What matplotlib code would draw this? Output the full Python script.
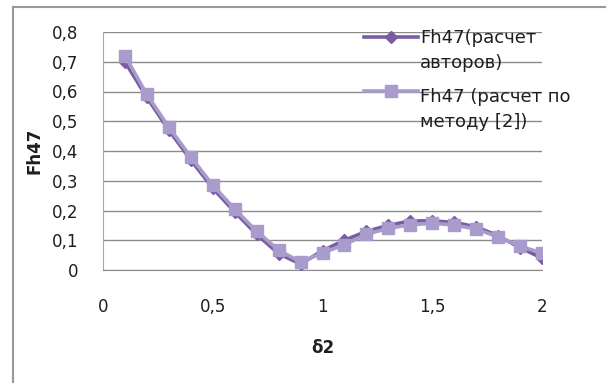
import matplotlib
matplotlib.use("Agg")
import matplotlib.pyplot as plt
from matplotlib.lines import Line2D
from matplotlib.ticker import FuncFormatter

plt.rcParams['font.family'] = ['DejaVu Sans']

# Data
delta2 = [0.1, 0.2, 0.3, 0.4, 0.5, 0.6, 0.7, 0.8, 0.9, 1.0,
          1.1, 1.2, 1.3, 1.4, 1.5, 1.6, 1.7, 1.8, 1.9, 2.0]
fh47_authors = [0.70, 0.58, 0.47, 0.37, 0.275, 0.195, 0.12, 0.055, 0.02, 0.065,
                0.10, 0.13, 0.15, 0.165, 0.165, 0.16, 0.145, 0.115, 0.075, 0.04]
fh47_method2 = [0.72, 0.59, 0.48, 0.38, 0.285, 0.205, 0.13, 0.067, 0.027, 0.057,
                0.085, 0.12, 0.14, 0.152, 0.157, 0.151, 0.138, 0.111, 0.08, 0.057]
label_authors = ["Fh47(расчет", "авторов)"]
label_method2 = ["Fh47 (расчет по", "методу [2])"]
x_ticks = [0, 0.5, 1, 1.5, 2]
y_ticks = [0, 0.1, 0.2, 0.3, 0.4, 0.5, 0.6, 0.7, 0.8]

c_dark = '#7A5CA2'
c_light = '#A99BCB'
grid_c = '#8C8C8C'
txt_c = '#1E1E1E'

fig = plt.figure(figsize=(6.06, 3.83), dpi=100)
ax = fig.add_axes([103/606, 1-270/383, 439/606, 238/383])

ax.plot(delta2, fh47_authors, color=c_dark, lw=2.6, marker='D', ms=6,
        mfc=c_dark, mec=c_dark, zorder=3)
ax.plot(delta2, fh47_method2, color=c_light, lw=2.6, marker='s', ms=8,
        mfc=c_light, mec=c_light, zorder=4)

ax.set_xlim(0, 2)
ax.set_ylim(0, 0.8)
ax.set_xticks(x_ticks)
ax.set_yticks(y_ticks)
comma = FuncFormatter(lambda v, p: ('%g' % v).replace('.', ','))
ax.xaxis.set_major_formatter(comma)
ax.yaxis.set_major_formatter(comma)
ax.tick_params(axis='both', length=0, labelsize=12, colors=txt_c)
ax.tick_params(axis='x', pad=20)
ax.tick_params(axis='y', pad=18)

ax.grid(axis='y', color=grid_c, lw=1)
ax.set_axisbelow(True)
for s in ('top', 'right'):
    ax.spines[s].set_visible(False)
ax.spines['left'].set_color('#A8A8A8')
ax.spines['bottom'].set_color(grid_c)

ax.set_xlabel('δ2', fontsize=12, fontweight='bold', labelpad=17, color=txt_c)
ax.set_ylabel('Fh47', fontsize=12, fontweight='bold', labelpad=6, color=txt_c)

# Legend, drawn without frame so the grid shows through
def legend_entry(y_handle, y_base, color, marker, ms, lines):
    fig.add_artist(Line2D([364/606, 418/606], [1-y_handle/383, 1-y_handle/383],
                          color=color, lw=2.6, transform=fig.transFigure))
    fig.add_artist(Line2D([391/606], [1-y_handle/383], color=color, marker=marker,
                          ms=ms, mfc=color, mec=color, transform=fig.transFigure))
    for i, line in enumerate(lines):
        fig.text(420/606, 1-(y_base + 25*i)/383, line, fontsize=13, va='baseline',
                 ha='left', color=txt_c)

legend_entry(37, 43, c_dark, 'D', 6, label_authors)
legend_entry(91, 102, c_light, 's', 8, label_method2)

# Chart frame
fig.add_artist(Line2D([13/606, 13/606], [0, 1-7/383], color='#999999', lw=1.5,
                      transform=fig.transFigure))
fig.add_artist(Line2D([13/606, 1], [1-7/383, 1-7/383], color='#999999', lw=1.5,
                      transform=fig.transFigure))

fig.savefig('out.png', dpi=100)
